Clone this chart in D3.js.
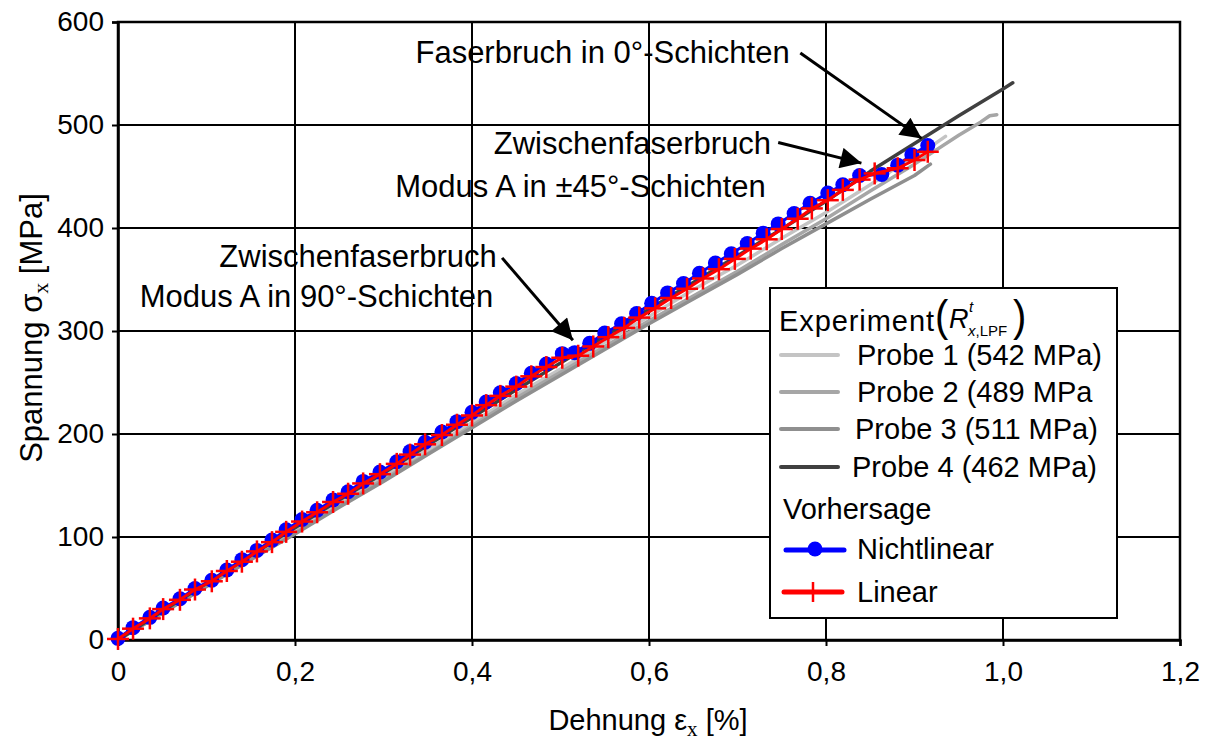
<!DOCTYPE html>
<html>
<head>
<meta charset="utf-8">
<script src="https://cdn.jsdelivr.net/npm/d3@7"></script>
<style>
  body { margin: 0; background: #fff; }
  text { font-family: "Liberation Sans", Arial, sans-serif; fill: #000; }
</style>
</head>
<body>
<svg id="chart" width="1213" height="740"></svg>
<script>
// ---- axis ticks ----
const xTicks = [0, 0.2, 0.4, 0.6, 0.8, 1.0, 1.2];
const yTicks = [0, 100, 200, 300, 400, 500, 600];

// ---- measured curves: [strain %, stress MPa] ----
const probe1 = [[0,0],[0.05,27],[0.1,54],[0.15,80],[0.2,106],[0.25,132],[0.3,158],[0.35,185],[0.4,211],[0.45,238],[0.5,263],[0.55,289],[0.6,314],[0.65,340],[0.7,364],[0.75,390],[0.8,415],[0.85,442],[0.9,470],[0.92,480],[0.935,489]];
const probe2 = [[0,0],[0.05,26],[0.1,53],[0.15,79],[0.2,104],[0.25,130],[0.3,156],[0.35,181],[0.4,208],[0.45,235],[0.5,260],[0.55,285],[0.6,310],[0.65,334],[0.7,358],[0.75,384],[0.8,409],[0.85,436],[0.9,462],[0.95,490],[0.975,503],[0.985,509],[0.993,510]];
const probe3 = [[0,0],[0.05,26],[0.1,52],[0.15,78],[0.2,103],[0.25,129],[0.3,154],[0.35,180],[0.4,206],[0.45,232],[0.5,257],[0.55,282],[0.6,307],[0.65,331],[0.7,355],[0.75,380],[0.8,404],[0.85,428],[0.9,451],[0.918,462]];
const probe4 = [[0,0],[0.05,28],[0.1,55],[0.15,82],[0.2,109],[0.25,136],[0.3,162],[0.35,189],[0.4,216],[0.45,243],[0.5,269],[0.55,295],[0.6,321],[0.65,347],[0.7,373],[0.75,399],[0.8,426],[0.85,455],[0.9,482],[0.95,509],[1.0,535],[1.011,541]];

// ---- predictions: [strain %, stress MPa] ----
const nichtlinear = [[0.000,1.6],[0.017,12],[0.036,22],[0.051,31],[0.070,40],[0.087,50],[0.106,58],[0.123,68],[0.140,78],[0.157,87],[0.174,97],[0.190,107],[0.208,117],[0.225,126],[0.243,136],[0.260,144],[0.277,154],[0.296,163],[0.315,173],[0.330,183],[0.347,192],[0.366,202],[0.383,212],[0.400,221],[0.416,231],[0.432,240],[0.450,249],[0.467,259],[0.484,268],[0.502,278],[0.516,279],[0.533,288],[0.550,298],[0.569,307],[0.586,317],[0.603,327],[0.621,337],[0.639,346],[0.657,356],[0.675,366],[0.693,375],[0.711,385],[0.729,395],[0.746,404],[0.764,414],[0.782,424],[0.802,434],[0.819,442],[0.838,451],[0.863,452],[0.881,461],[0.897,471],[0.915,480]];
const linear = [[0.000,1],[0.017,11],[0.036,21],[0.051,30],[0.070,39],[0.087,49],[0.106,57],[0.123,67],[0.140,76],[0.157,86],[0.174,95],[0.190,105],[0.208,115],[0.225,124],[0.243,134],[0.260,142],[0.277,152],[0.296,161],[0.315,171],[0.330,180],[0.347,190],[0.366,199],[0.383,209],[0.400,218],[0.416,228],[0.432,237],[0.450,246],[0.467,256],[0.484,265],[0.502,274],[0.520,276],[0.537,285],[0.554,294],[0.572,303],[0.589,313],[0.607,322],[0.625,332],[0.643,341],[0.661,351],[0.679,360],[0.697,370],[0.715,380],[0.733,389],[0.750,399],[0.768,409],[0.784,419],[0.802,427],[0.819,437],[0.838,447],[0.855,453],[0.881,458],[0.900,466],[0.915,474]];

// ---- legend entries ----
const probeNames = ["Probe 1 (542 MPa)", "Probe 2 (489 MPa", "Probe 3 (511 MPa)", "Probe 4 (462 MPa)"];
const probeColors = ["#c4c4c4", "#a6a6a6", "#8f8f8f", "#404040"];

// ---- annotations (anchor and arrow in data units) ----
const notes = [
  { lines: [["Faserbruch in 0°-Schichten", 0.759, 571]], from: [0.771, 570], to: [0.908, 487] },
  { lines: [["Zwischenfaserbruch", 0.738, 482], ["Modus A in ±45°-Schichten", 0.732, 441]], from: [0.746, 483], to: [0.840, 463] },
  { lines: [["Zwischenfaserbruch", 0.428, 373], ["Modus A in 90°-Schichten", 0.424, 334]], from: [0.434, 371], to: [0.514, 291] }
];

const svg = d3.select("#chart");
const x = d3.scaleLinear().domain([0, 1.2]).range([118, 1180]);
const y = d3.scaleLinear().domain([0, 600]).range([640, 22]);
const fmt = d => d === 0 ? "0" : d3.format(".1f")(d).replace(".", ",");
const serif = "Liberation Serif, Times New Roman, serif";

// grid
const grid = svg.append("g");
grid.selectAll("line.v").data(xTicks).join("line")
  .attr("x1", d => x(d)).attr("x2", d => x(d)).attr("y1", y(0)).attr("y2", y(600))
  .attr("stroke", "#000").attr("stroke-width", 2);
grid.selectAll("line.h").data(yTicks).join("line")
  .attr("y1", d => y(d)).attr("y2", d => y(d)).attr("x1", x(0)).attr("x2", x(1.2))
  .attr("stroke", "#000").attr("stroke-width", 2);

// axes
const xAxis = svg.append("g").attr("transform", `translate(0,${y(0)})`)
  .call(d3.axisBottom(x).tickValues(xTicks).tickFormat(fmt).tickSize(6).tickPadding(10));
const yAxis = svg.append("g").attr("transform", `translate(${x(0)},0)`)
  .call(d3.axisLeft(y).tickValues(yTicks).tickSize(6).tickPadding(8));
[xAxis, yAxis].forEach(a => {
  a.select(".domain").attr("stroke", "#000").attr("stroke-width", 2.5);
  a.selectAll(".tick line").attr("stroke", "#000").attr("stroke-width", 2);
  a.selectAll(".tick text").attr("font-size", 28).attr("font-family", "Liberation Sans, Arial, sans-serif").attr("fill", "#000");
});
xAxis.selectAll(".tick text").attr("dy", "0.9em");
svg.append("rect").attr("x", x(0)).attr("y", y(600)).attr("width", x(1.2) - x(0)).attr("height", y(0) - y(600))
  .attr("fill", "none").attr("stroke", "#000").attr("stroke-width", 2.5);

// axis titles
const xt = svg.append("text").attr("x", 648).attr("y", 730).attr("text-anchor", "middle").attr("font-size", 29);
xt.append("tspan").text("Dehnung ε");
xt.append("tspan").text("x").attr("font-size", 21).attr("font-family", serif).attr("dy", 6);
xt.append("tspan").text(" [%]").attr("dy", -6);
const yt = svg.append("text").attr("transform", "translate(42,328) rotate(-90)").attr("text-anchor", "middle").attr("font-size", 31);
yt.append("tspan").text("Spannung σ");
yt.append("tspan").text("x").attr("font-size", 22).attr("font-family", serif).attr("dy", 6);
yt.append("tspan").text(" [MPa]").attr("dy", -6);

// measured curves
const line = d3.line().x(d => x(d[0])).y(d => y(d[1]));
[probe1, probe2, probe3, probe4].forEach((p, i) => {
  svg.append("path").datum(p).attr("d", line).attr("fill", "none")
    .attr("stroke", probeColors[i]).attr("stroke-width", 3.5).attr("stroke-linejoin", "round").attr("stroke-linecap", "round");
});

// nonlinear prediction
svg.append("path").datum(nichtlinear).attr("d", line).attr("fill", "none").attr("stroke", "#0000ff").attr("stroke-width", 3);
svg.append("g").selectAll("circle").data(nichtlinear).join("circle")
  .attr("cx", d => x(d[0])).attr("cy", d => y(d[1])).attr("r", 7.5).attr("fill", "#0000ff");

// linear prediction
svg.append("path").datum(linear).attr("d", line).attr("fill", "none").attr("stroke", "#ff0000").attr("stroke-width", 3);
const cross = svg.append("g").attr("stroke", "#ff0000").attr("stroke-width", 2.5);
cross.selectAll("line.hz").data(linear).join("line")
  .attr("x1", d => x(d[0]) - 11).attr("x2", d => x(d[0]) + 11).attr("y1", d => y(d[1])).attr("y2", d => y(d[1]));
cross.selectAll("line.vt").data(linear).join("line")
  .attr("x1", d => x(d[0])).attr("x2", d => x(d[0])).attr("y1", d => y(d[1]) - 11).attr("y2", d => y(d[1]) + 11);

// annotations with arrows
const defs = svg.append("defs");
defs.append("marker").attr("id", "head").attr("viewBox", "0 0 10 10").attr("refX", 10).attr("refY", 5)
  .attr("markerWidth", 8).attr("markerHeight", 7).attr("markerUnits", "strokeWidth").attr("orient", "auto")
  .append("path").attr("d", "M0,0 L10,5 L0,10 z").attr("fill", "#000");
notes.forEach(n => {
  n.lines.forEach(([t, sx, sy]) => {
    svg.append("text").attr("x", x(sx)).attr("y", y(sy)).attr("dy", "0.35em")
      .attr("text-anchor", "end").attr("font-size", 31).text(t);
  });
  svg.append("line").attr("x1", x(n.from[0])).attr("y1", y(n.from[1]))
    .attr("x2", x(n.to[0])).attr("y2", y(n.to[1]))
    .attr("stroke", "#000").attr("stroke-width", 3).attr("marker-end", "url(#head)");
});

// legend
const lg = svg.append("g");
lg.append("rect").attr("x", 770).attr("y", 288).attr("width", 347).attr("height", 330)
  .attr("fill", "#fff").attr("stroke", "#000").attr("stroke-width", 2);
lg.append("text").attr("x", 779).attr("y", 331).attr("font-size", 29).attr("textLength", 155).text("Experiment");
lg.append("text").attr("x", 935).attr("y", 331).attr("font-size", 40).attr("font-family", serif).attr("transform", "translate(0,-40) scale(1,1.12)").text("(");
lg.append("text").attr("x", 949).attr("y", 328).attr("font-size", 27).attr("font-family", serif).attr("font-style", "italic").text("R");
lg.append("text").attr("x", 969).attr("y", 312).attr("font-size", 15).attr("font-family", serif).attr("font-style", "italic").text("t");
const sub = lg.append("text").attr("x", 968).attr("y", 336).attr("font-size", 15).attr("font-family", serif);
sub.append("tspan").attr("font-style", "italic").text("x");
sub.append("tspan").text(",LPF");
lg.append("text").attr("x", 1013).attr("y", 331).attr("font-size", 40).attr("font-family", serif).attr("transform", "translate(0,-40) scale(1,1.12)").text(")");

const rowY = [355, 392, 429, 467];
const labelX = [857, 857, 855, 852];
probeNames.forEach((name, i) => {
  lg.append("line").attr("x1", 781).attr("x2", 838).attr("y1", rowY[i]).attr("y2", rowY[i])
    .attr("stroke", probeColors[i]).attr("stroke-width", 4).attr("stroke-linecap", "round");
  lg.append("text").attr("x", labelX[i]).attr("y", rowY[i]).attr("dy", "0.35em").attr("font-size", 29).text(name);
});
lg.append("text").attr("x", 783).attr("y", 509).attr("dy", "0.35em").attr("font-size", 29).text("Vorhersage");
lg.append("line").attr("x1", 786).attr("x2", 844).attr("y1", 550).attr("y2", 550)
  .attr("stroke", "#0000ff").attr("stroke-width", 5).attr("stroke-linecap", "round");
lg.append("circle").attr("cx", 815).attr("cy", 549).attr("r", 7.5).attr("fill", "#0000ff");
lg.append("text").attr("x", 857).attr("y", 549).attr("dy", "0.35em").attr("font-size", 29).text("Nichtlinear");
lg.append("line").attr("x1", 784).attr("x2", 842).attr("y1", 592).attr("y2", 592)
  .attr("stroke", "#ff0000").attr("stroke-width", 5).attr("stroke-linecap", "round");
lg.append("line").attr("x1", 813).attr("x2", 813).attr("y1", 582).attr("y2", 602)
  .attr("stroke", "#ff0000").attr("stroke-width", 2.5);
lg.append("text").attr("x", 857).attr("y", 592).attr("dy", "0.35em").attr("font-size", 29).text("Linear");
</script>
</body>
</html>
